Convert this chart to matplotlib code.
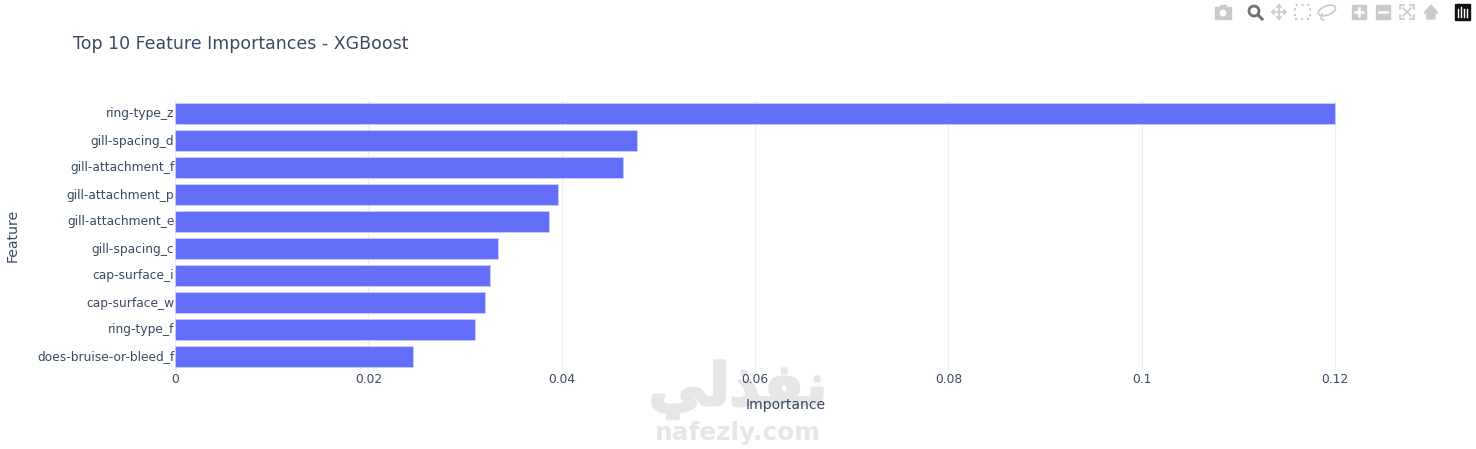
import matplotlib
matplotlib.use('Agg')
import matplotlib.pyplot as plt
import matplotlib.patheffects as pe
import matplotlib.transforms as mtrans
from matplotlib.patches import Rectangle, Ellipse

features = ['ring-type_z', 'gill-spacing_d', 'gill-attachment_f', 'gill-attachment_p',
            'gill-attachment_e', 'gill-spacing_c', 'cap-surface_i', 'cap-surface_w',
            'ring-type_f', 'does-bruise-or-bleed_f']
importances = [0.1200, 0.0478, 0.0463, 0.0396, 0.0387, 0.0334, 0.0326, 0.0321, 0.0310, 0.0246]
x_ticks = [0, 0.02, 0.04, 0.06, 0.08, 0.1, 0.12]
x_tick_labels = ['0', '0.02', '0.04', '0.06', '0.08', '0.1', '0.12']

W, H = 1476, 449
text_color = '#3a4a63'
icon_color = '#c8cbce'
mark_color = '#e6e6e6'

plt.rcParams['font.family'] = ['DejaVu Sans']

fig = plt.figure(figsize=(W / 100, H / 100), dpi=100, facecolor='white')
ax = fig.add_axes([175 / W, 1 - 370 / H, (1396 - 175) / W, 270 / H], facecolor='none')

ax.barh(features, importances, height=0.8, color='#636efa', edgecolor='#c9cdfb', linewidth=0.6, zorder=3)
ax.set_ylim(9.5, -0.5)
ax.set_xlim(0, 0.1263)

ax.set_xticks(x_ticks)
ax.set_xticklabels(x_tick_labels)
ax.grid(axis='x', color='#eceef2', linewidth=0.8, zorder=0)
ax.tick_params(axis='both', length=0, labelsize=8.8, labelcolor=text_color)
ax.tick_params(axis='x', pad=2)
ax.tick_params(axis='y', pad=0.5)
# nudge the category labels up a pixel
nudge = mtrans.ScaledTranslation(0, 1 / 100, fig.dpi_scale_trans)
for label in ax.get_yticklabels():
    label.set_va('center_baseline')
    label.set_transform(label.get_transform() + nudge)
for side in ax.spines.values():
    side.set_visible(False)
ax.axvline(0, color='#ebf0f8', linewidth=1.5, zorder=1)


def px_text(x, y, s, **kw):
    return fig.text(x / W, 1 - y / H, s, **kw)


px_text(73, 44, 'Top 10 Feature Importances - XGBoost', fontsize=12.47, color=text_color,
        ha='left', va='center')
px_text(786, 405, 'Importance', fontsize=10.1, color=text_color, ha='center', va='center')
px_text(13, 235, 'Feature', fontsize=10.1, color=text_color, ha='center', va='center', rotation=90)

# watermark, arabic is written in presentation forms and visual order
arabic = px_text(738, 390, '\ufef2\ufedf\ufeac\ufed4\ufee7', fontsize=42, fontweight='bold',
                 color=mark_color, ha='center', va='center', zorder=-1)
arabic.set_path_effects([pe.withStroke(linewidth=2, foreground=mark_color)])
px_text(738, 433, 'nafezly.com', fontsize=17.8, fontweight='bold', color=mark_color,
        ha='center', va='center', zorder=-1)


# plotly modebar icons
def rect(x, y, w, h, **kw):
    fig.add_artist(Rectangle((x / W, 1 - (y + h) / H), w / W, h / H, transform=fig.transFigure, **kw))


def line(xs, ys, color=icon_color, lw=1.2):
    fig.add_artist(plt.Line2D([x / W for x in xs], [1 - y / H for y in ys], color=color, lw=lw,
                              transform=fig.transFigure))


def circle(x, y, r, **kw):
    fig.add_artist(Ellipse((x / W, 1 - y / H), 2 * r / W, 2 * r / H, transform=fig.transFigure, **kw))


# camera
rect(1215, 7, 16, 12, color=icon_color)
rect(1220, 5, 6, 2, color=icon_color)
circle(1223, 13, 3.5, facecolor='white', edgecolor='none')
# zoom
circle(1254, 11, 5, facecolor='none', edgecolor='#6f7378', lw=2)
line([1258, 1262], [15, 19], color='#6f7378', lw=2.2)
# pan
line([1272, 1286], [12, 12])
line([1279, 1279], [5, 19])
line([1277, 1279, 1281], [7, 5, 7])
line([1277, 1279, 1281], [17, 19, 17])
line([1274, 1272, 1274], [10, 12, 14])
line([1284, 1286, 1284], [10, 12, 14])
# box select
rect(1295, 5, 15, 14, fill=False, edgecolor=icon_color, linestyle=':', lw=1.6)
# lasso
fig.add_artist(Ellipse((1327 / W, 1 - 10.5 / H), 15 / W, 11 / H, angle=-15, fill=False,
                       edgecolor=icon_color, lw=1.2, transform=fig.transFigure))
line([1322, 1321, 1324], [14, 19, 20])
# zoom in
rect(1352, 5, 14, 14, color=icon_color)
line([1355, 1363], [12, 12], color='white', lw=1.8)
line([1359, 1359], [8, 16], color='white', lw=1.8)
# zoom out
rect(1376, 5, 14, 14, color=icon_color)
line([1379, 1387], [12, 12], color='white', lw=1.8)
# autoscale
for cx, cy, dx, dy in [(1400, 5, 1, 1), (1414, 5, -1, 1), (1400, 19, 1, -1), (1414, 19, -1, -1)]:
    line([cx + 4 * dx, cx, cx], [cy, cy, cy + 4 * dy])
line([1403, 1411], [8, 16])
line([1411, 1403], [8, 16])
# home
fig.add_artist(plt.Polygon([(1424 / W, 1 - 13 / H), (1431 / W, 1 - 5 / H), (1438 / W, 1 - 13 / H),
                            (1435 / W, 1 - 13 / H), (1435 / W, 1 - 19 / H), (1427 / W, 1 - 19 / H),
                            (1427 / W, 1 - 13 / H)], closed=True, color=icon_color,
                           transform=fig.transFigure))
# plotly logo
rect(1455, 4, 15, 16, color='#111111')
for lx, top in [(1458, 9), (1461, 7), (1464, 9), (1467, 9)]:
    line([lx, lx], [top, 17], color='white', lw=1)

fig.savefig('out.png', dpi=100)
